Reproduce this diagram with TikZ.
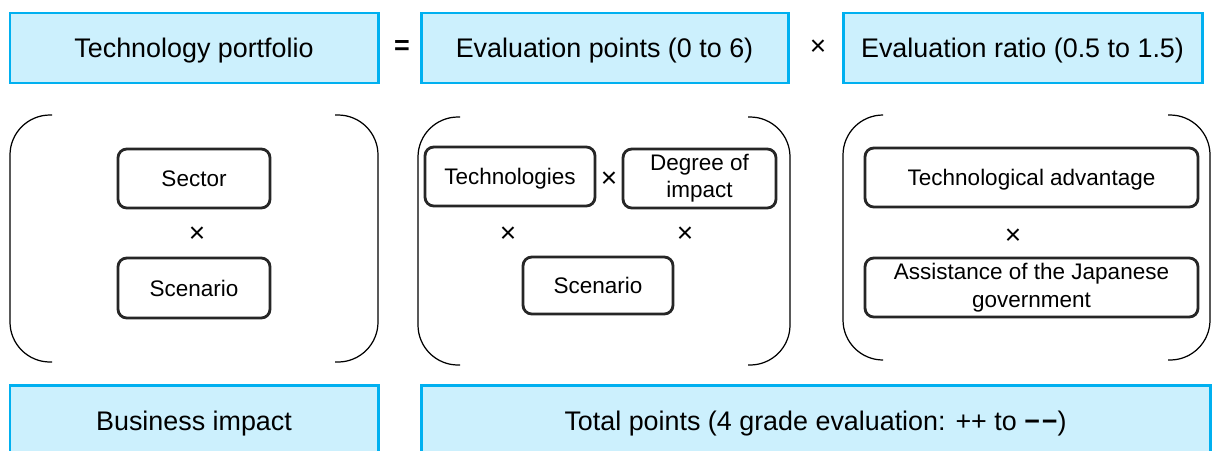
\documentclass[tikz,border=0pt]{standalone}
\usepackage{fontspec}
\setmainfont{Liberation Sans}
\usepackage{xcolor}
\usetikzlibrary{positioning}
\definecolor{skyline}{HTML}{00B0F0}
\definecolor{skyfill}{HTML}{CCF0FD}
\tikzset{
  hd/.style    = {draw=skyline, fill=skyfill, line width=1.7pt, minimum height=1.4cm,
                  inner sep=0pt, text height=11pt, text depth=0pt,
                  font=\fontsize{15.3}{18}\selectfont},
  bx/.style    = {draw=black!85, rounded corners=5pt, line width=1.6pt, inner sep=0pt,
                  minimum height=1.18cm, align=center,
                  font=\fontsize{12.8}{15.5}\selectfont},
  bx1/.style   = {bx, text height=9.2pt, text depth=0pt},
  op/.style    = {font=\fontsize{16}{18}\selectfont, inner sep=0pt},
  opbig/.style = {font=\bfseries\fontsize{15.3}{18}\selectfont, inner sep=0pt},
  brk/.style   = {line width=0.7pt, rounded corners=0.8cm},
}

\begin{document}
\begin{tikzpicture}
  \clip (0,0) rectangle (24.26,-9);
  \fill[white] (0,0) rectangle (24.26,-9);
  % top row
  \node[hd, minimum width=7.36cm] (tp) at (3.88,-0.96) {Technology portfolio};
  \node[opbig] (eq) at (8.04,-0.96) {=};
  \node[hd, minimum width=7.34cm] (ep) at (12.09,-0.96) {Evaluation points (0 to 6)};
  \node[op] (m0) at (16.36,-0.96) {×};
  \node[hd, minimum width=7.18cm] (er) at (20.45,-0.96) {Evaluation ratio (0.5 to 1.5)};

  % brackets
  \draw[brk] (1.04,-2.3) -- (0.2,-2.3) -- (0.2,-7.24) -- (1.04,-7.24);
  \draw[brk] (6.7,-2.3) -- (7.56,-2.3) -- (7.56,-7.24) -- (6.7,-7.24);
  \draw[brk] (9.2,-2.34) -- (8.36,-2.34) -- (8.36,-7.3) -- (9.2,-7.3);
  \draw[brk] (14.96,-2.34) -- (15.8,-2.34) -- (15.8,-7.3) -- (14.96,-7.3);
  \draw[brk] (17.66,-2.3) -- (16.86,-2.3) -- (16.86,-7.2) -- (17.66,-7.2);
  \draw[brk] (23.36,-2.3) -- (24.2,-2.3) -- (24.2,-7.2) -- (23.36,-7.2);

  % business impact side
  \node[bx1, minimum width=3.04cm] (sec) at (3.88,-3.57) {Sector};
  \node[op] (m1) at (3.94,-4.7) {×};
  \node[bx1, minimum width=3.04cm, minimum height=1.2cm] (sc1) at (3.88,-5.76) {Scenario};

  % evaluation points side
  \node[bx1, minimum width=3.4cm] (tec) at (10.2,-3.53) {Technologies};
  \node[op] (m2) at (12.18,-3.6) {×};
  \node[bx, minimum width=3.06cm] (deg) at (13.99,-3.57) {Degree of\\impact};
  \node[op] (m3) at (10.16,-4.7) {×};
  \node[op] (m4) at (13.7,-4.7) {×};
  \node[bx1, minimum width=3cm, minimum height=1.14cm] (sc2) at (11.96,-5.71) {Scenario};

  % evaluation ratio side
  \node[bx1, minimum width=6.66cm] (adv) at (20.63,-3.55) {Technological advantage};
  \node[op] (m5) at (20.26,-4.74) {×};
  \node[bx, minimum width=6.66cm, font=\fontsize{12.8}{16}\selectfont] (gov) at (20.63,-5.75)
       {Assistance of the Japanese\\government};

  % bottom row
  \node[hd, minimum width=7.36cm, minimum height=1.44cm] (bi) at (3.88,-8.42) {Business impact};
  \node[hd, minimum width=15.78cm, minimum height=1.44cm] (tot) at (16.31,-8.42)
       {Total points (4 grade evaluation: ++ to {\bfseries −\kern1pt−})};
\end{tikzpicture}
\end{document}
